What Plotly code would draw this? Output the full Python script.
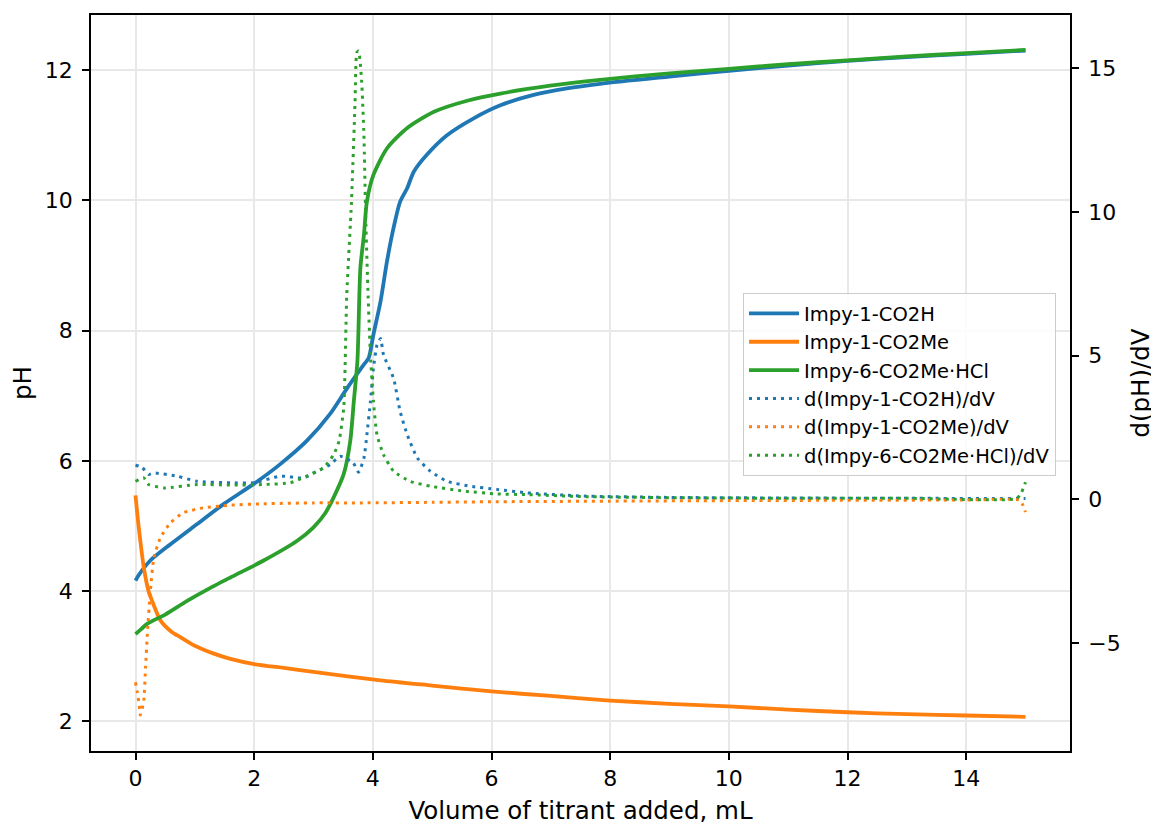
import plotly.graph_objects as go

# ---------------- data ----------------
series_names = ["Impy-1-CO2H", "Impy-1-CO2Me", "Impy-6-CO2Me·HCl"]
deriv_names = ["d(Impy-1-CO2H)/dV", "d(Impy-1-CO2Me)/dV", "d(Impy-6-CO2Me·HCl)/dV"]
colors = ["#1f77b4", "#ff7f0e", "#2ca02c"]

# pH curves
vol_acid = [0, 0.05, 0.25, 0.59, 1.04, 1.49, 2.0, 2.44, 2.89, 3.28, 3.57, 3.85, 3.93, 4.01,
            4.13, 4.24, 4.35, 4.46, 4.58, 4.69, 4.91, 5.25, 5.7, 6.15, 6.71, 7.27, 7.83,
            9.0, 10.0, 11.0, 12.0, 13.0, 14.0, 15.0]
ph_acid = [4.16, 4.24, 4.47, 4.72, 5.03, 5.34, 5.65, 5.95, 6.31, 6.72, 7.12, 7.48, 7.58, 7.94,
           8.45, 9.07, 9.58, 9.98, 10.19, 10.44, 10.70, 11.0, 11.26, 11.46, 11.62, 11.72, 11.79,
           11.9, 11.99, 12.07, 12.14, 12.2, 12.25, 12.3]

vol_ester = [0, 0.04, 0.08, 0.14, 0.22, 0.28, 0.42, 0.6, 0.76, 1.0, 1.32, 1.6, 2.0, 2.5, 3.0,
             4.13, 5, 6, 7, 8, 9, 10, 11, 12, 13, 14, 15]
ph_ester = [5.47, 5.1, 4.78, 4.36, 4.0, 3.85, 3.55, 3.38, 3.29, 3.16, 3.04, 2.96, 2.88, 2.82, 2.76,
            2.63, 2.55, 2.46, 2.39, 2.32, 2.27, 2.23, 2.18, 2.14, 2.11, 2.09, 2.07]

vol_hcl = [0, 0.1, 0.2, 0.5, 0.87, 1.2, 1.6, 2.16, 2.72, 3.0, 3.2, 3.34, 3.51, 3.62, 3.68, 3.74,
           3.79, 3.85, 3.9, 4.01, 4.24, 4.58, 5.03, 5.59, 6.15, 6.99, 7.83, 9, 10, 11, 12, 13, 14, 15]
ph_hcl = [3.34, 3.42, 3.5, 3.64, 3.85, 4.02, 4.21, 4.47, 4.77, 4.98, 5.2, 5.44, 5.8, 6.31, 6.92,
          7.53, 8.96, 9.47, 9.98, 10.39, 10.8, 11.11, 11.36, 11.53, 11.64, 11.76, 11.85, 11.95,
          12.02, 12.09, 12.15, 12.21, 12.26, 12.31]

# derivative curves
dvol_acid = [0, 0.11, 0.22, 0.31, 0.7, 1.04, 1.6, 2.0, 2.44, 2.83, 3.06, 3.28, 3.45, 3.67, 3.76,
             3.85, 3.9, 3.96, 4.01, 4.07, 4.13, 4.18, 4.35, 4.46, 4.58, 4.75, 4.97, 5.25, 5.64,
             6.09, 6.6, 7.5, 9, 11, 13, 14.9, 15]
d_acid = [1.19, 1.12, 0.87, 0.92, 0.81, 0.63, 0.58, 0.58, 0.81, 0.75, 0.98, 1.21, 1.5, 1.27, 0.95,
          1.44, 2.25, 3.41, 4.56, 5.37, 5.6, 5.03, 4.21, 3.06, 2.25, 1.44, 0.98, 0.63, 0.46,
          0.35, 0.23, 0.12, 0.07, 0.05, 0.04, 0.03, 0.03]

dvol_ester = [0, 0.03, 0.06, 0.08, 0.11, 0.14, 0.17, 0.2, 0.25, 0.31, 0.42, 0.59, 0.81, 1.15, 1.6,
              2.16, 3.0, 3.79, 5, 6, 8, 10, 12, 14, 14.9, 14.95, 15]
d_ester = [-6.36, -6.7, -7.1, -7.5, -7.3, -6.99, -5.84, -4.68, -3.2, -2.02, -1.33, -0.81, -0.46,
           -0.29, -0.2, -0.15, -0.12, -0.12, -0.1, -0.08, -0.06, -0.04, -0.03, -0.02, -0.02,
           -0.17, -0.44]

dvol_hcl = [0, 0.14, 0.22, 0.48, 1.04, 1.6, 2.16, 2.61, 2.95, 3.17, 3.34, 3.43, 3.51, 3.56, 3.64,
            3.7, 3.73, 3.76, 3.81, 3.85, 3.88, 3.92, 3.96, 4.01, 4.07, 4.18, 4.35, 4.63, 4.97,
            5.53, 6.09, 6.6, 7.5, 9, 11, 13, 14.85, 14.93, 15]
d_hcl = [0.63, 0.75, 0.52, 0.40, 0.52, 0.5, 0.52, 0.58, 0.87, 1.1, 1.56, 2.02, 3.2, 7.1, 10.34,
         13.8, 15.54, 15.6, 14.6, 12.65, 9.8, 7.1, 5.0, 3.41, 2.25, 1.56, 0.98, 0.63, 0.46,
         0.29, 0.19, 0.17, 0.1, 0.06, 0.04, 0.04, 0.03, 0.23, 0.6]

x_ticks = [0, 2, 4, 6, 8, 10, 12, 14]
ph_ticks = [2, 4, 6, 8, 10, 12]
d_ticks = [-5, 0, 5, 10, 15]

# ---------------- figure ----------------
FONT = "DejaVu Sans"
fig = go.Figure()

ph_data = [(vol_acid, ph_acid), (vol_ester, ph_ester), (vol_hcl, ph_hcl)]
d_data = [(dvol_acid, d_acid), (dvol_ester, d_ester), (dvol_hcl, d_hcl)]

for i, (xs, ys) in enumerate(ph_data):
    fig.add_trace(go.Scatter(x=xs, y=ys, mode="lines", name=series_names[i],
                             line=dict(color=colors[i], width=3.8, shape="spline", smoothing=0.7),
                             yaxis="y", legendgroup=f"g{i}"))
for i, (xs, ys) in enumerate(d_data):
    fig.add_trace(go.Scatter(x=xs, y=ys, mode="lines", name=deriv_names[i],
                             line=dict(color=colors[i], width=3, dash="3px,5px",
                                       shape="spline", smoothing=0.5),
                             yaxis="y2", legendgroup=f"d{i}"))

axis_common = dict(
    showline=True, linecolor="black", linewidth=1.7,
    ticks="outside", ticklen=7, tickwidth=1.5, tickcolor="black",
    tickfont=dict(family=FONT, size=22, color="black"),
    zeroline=False,
)

# page body adds an 8px margin, so the figure is 8px smaller each way
fig.update_layout(
    width=1151, height=818,
    margin=dict(l=83, r=89, t=5, b=75),
    paper_bgcolor="white", plot_bgcolor="white",
    font=dict(family=FONT, color="black"),
    xaxis=dict(range=[-0.75, 15.75], tickvals=x_ticks, mirror=True,
               showgrid=True, gridcolor="#e8e8e8", gridwidth=1.5,
               title=dict(text="Volume of titrant added, mL",
                          font=dict(family=FONT, size=24.5), standoff=12),
               **axis_common),
    yaxis=dict(range=[1.545, 12.846], tickvals=ph_ticks, ticklabelstandoff=5,
               showgrid=True, gridcolor="#e8e8e8", gridwidth=1.5,
               title=dict(text="pH", font=dict(family=FONT, size=24.5), standoff=15),
               **axis_common),
    yaxis2=dict(range=[-8.75, 16.85], tickvals=d_ticks, overlaying="y", side="right",
                ticklabelstandoff=5, showgrid=False,
                title=dict(text="d(pH)/dV", font=dict(family=FONT, size=24.5), standoff=12),
                **axis_common),
    legend=dict(x=0.666, y=0.622, xanchor="left", yanchor="top",
                bgcolor="rgba(255,255,255,0.85)", bordercolor="#cccccc", borderwidth=1,
                font=dict(family=FONT, size=19.5, color="black"),
                itemwidth=50, tracegroupgap=0),
    showlegend=True,
)

fig.write_html("out.html")
